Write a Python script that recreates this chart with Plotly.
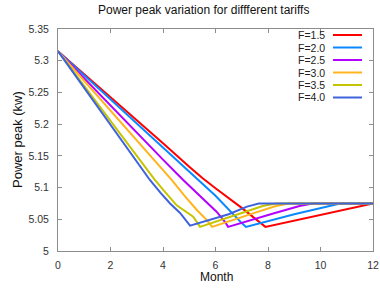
import plotly.graph_objects as go

title = "Power peak variation for diffferent tariffs"
series_names = ["F=1.5", "F=2.0", "F=2.5", "F=3.0", "F=3.5", "F=4.0"]
colors = ["#ff0000", "#0a88ff", "#b400ff", "#ffb41e", "#c4c400", "#3f63dc"]

x_f15 = [0, 1, 2, 3, 4, 5, 5.5, 6, 7, 7.9, 10, 12]
y_f15 = [5.315, 5.279, 5.243, 5.206, 5.170, 5.133, 5.115, 5.099, 5.068, 5.038, 5.057, 5.075]

x_f20 = [0, 1, 2, 3, 4, 5, 6, 7, 7.16, 9, 10.2, 10.75, 12]
y_f20 = [5.315, 5.277, 5.239, 5.200, 5.162, 5.124, 5.087, 5.044, 5.038, 5.058, 5.070, 5.075, 5.075]

x_f25 = [0, 1, 2, 3, 4, 4.77, 5.5, 6.04, 6.36, 6.48, 8.2, 9.2, 9.7, 12]
y_f25 = [5.315, 5.272, 5.230, 5.187, 5.144, 5.112, 5.083, 5.062, 5.046, 5.038, 5.059, 5.071, 5.075, 5.075]

x_f30 = [0, 1, 2, 3, 4, 4.33, 4.8, 5.28, 5.66, 5.87, 7.4, 8.3, 8.8, 12]
y_f30 = [5.315, 5.268, 5.221, 5.174, 5.127, 5.112, 5.088, 5.065, 5.049, 5.038, 5.059, 5.071, 5.075, 5.075]

x_f35 = [0, 1, 2, 3, 3.69, 4.1, 4.52, 5.15, 5.41, 7.0, 7.8, 8.3, 12]
y_f35 = [5.315, 5.260, 5.205, 5.150, 5.112, 5.092, 5.072, 5.054, 5.038, 5.060, 5.071, 5.075, 5.075]

x_f40 = [0, 1, 2, 3, 3.5, 3.9, 4.27, 4.65, 4.84, 5.03, 6.5, 7.2, 7.65, 12]
y_f40 = [5.315, 5.257, 5.199, 5.141, 5.112, 5.092, 5.075, 5.060, 5.049, 5.040, 5.058, 5.070, 5.075, 5.075]

xs = [x_f15, x_f20, x_f25, x_f30, x_f35, x_f40]
ys = [y_f15, y_f20, y_f25, y_f30, y_f35, y_f40]

x_ticks = [0, 2, 4, 6, 8, 10, 12]
y_ticks = [5, 5.05, 5.1, 5.15, 5.2, 5.25, 5.3, 5.35]
y_tick_text = ["5", "5.05", "5.1", "5.15", "5.2", "5.25", "5.3", "5.35"]

W, H = 380, 289
L, R, T, B = 58, 7, 29, 38
PW, PH = W - L - R, H - T - B

fig = go.Figure()
for name, c, x, y in zip(series_names, colors, xs, ys):
    fig.add_trace(go.Scatter(x=x, y=y, mode="lines", name=name,
                             line=dict(color=c, width=2), showlegend=False))

font = "Liberation Sans, Arial, sans-serif"
axis_common = dict(showgrid=False, zeroline=False, showline=True, linecolor="#8c8c8c",
                   linewidth=1, mirror="ticks", ticks="inside", ticklen=4, automargin=False,
                   tickcolor="#8c8c8c", tickfont=dict(family=font, size=10.5, color="#333333"))

fig.update_layout(
    width=W, height=H,
    margin=dict(l=L, r=R, t=T, b=B, autoexpand=False),
    paper_bgcolor="white", plot_bgcolor="white",
    xaxis=dict(range=[0, 12], tickvals=x_ticks, ticklabelstandoff=4, **axis_common),
    yaxis=dict(range=[5, 5.35], tickvals=y_ticks, ticktext=y_tick_text, ticklabelstandoff=6,
               **axis_common),
)


def px(xp):
    return (xp - L) / PW


def py(yp):
    return (H - B - yp) / PH


fig.add_annotation(text=title, xref="paper", yref="paper", x=px(203), y=py(10),
                   xanchor="center", yanchor="middle", showarrow=False,
                   font=dict(family=font, size=12, color="#111111"))
fig.add_annotation(text="Month", xref="paper", yref="paper", x=px(216), y=py(277),
                   xanchor="center", yanchor="middle", showarrow=False,
                   font=dict(family=font, size=12, color="#111111"))
fig.add_annotation(text="Power peak (kw)", xref="paper", yref="paper", x=px(17), y=py(140),
                   xanchor="center", yanchor="middle", showarrow=False, textangle=-90,
                   font=dict(family=font, size=13, color="#111111"))

# manual legend: text on the left, line sample on the right (gnuplot style)
row_y = [35, 47.5, 60, 72.5, 85, 97.5]
for name, c, yp in zip(series_names, colors, row_y):
    fig.add_annotation(text=name, xref="paper", yref="paper", x=px(327),
                       y=py(yp), xanchor="right", yanchor="middle",
                       showarrow=False, font=dict(family=font, size=10.5, color="#222222"))
    fig.add_shape(type="line", xref="paper", yref="paper",
                  x0=px(333), x1=px(362), y0=py(yp), y1=py(yp),
                  line=dict(color=c, width=2))

fig.write_html("out.html", config={"displayModeBar": False},
               post_script="document.body.style.margin='0';")
